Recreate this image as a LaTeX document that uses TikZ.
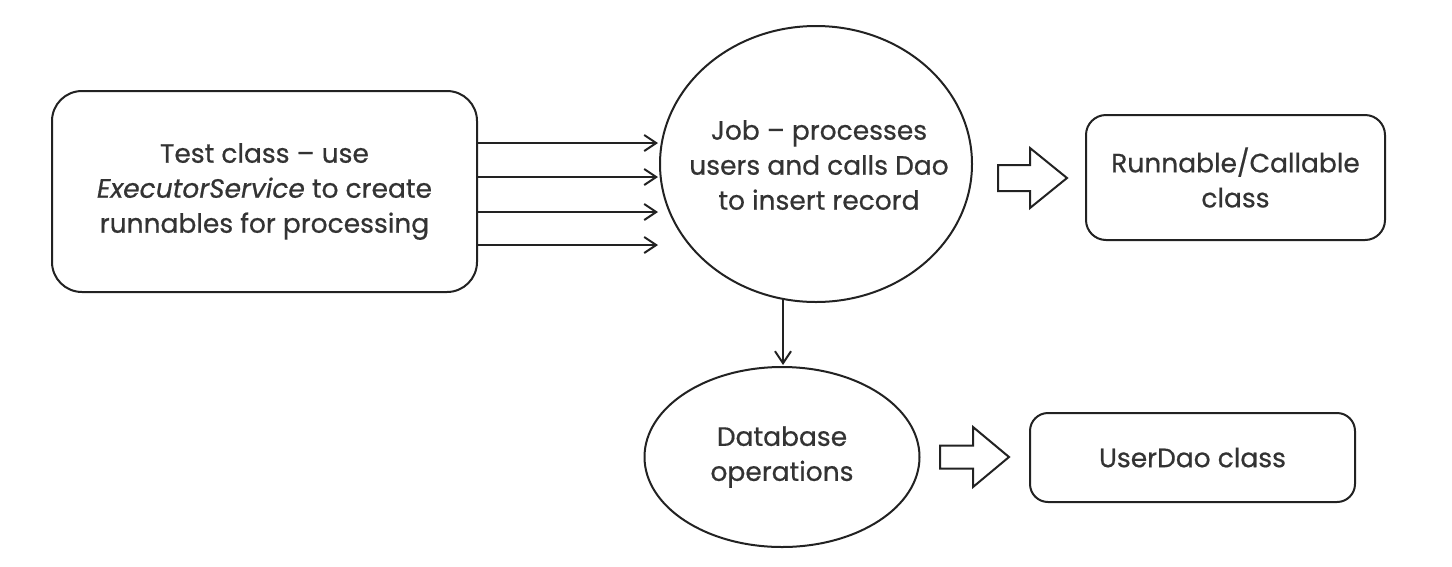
\documentclass[tikz,border=0pt]{standalone}
\usepackage{fontspec}
\setmainfont{Poppins}[FakeBold=0.6]
\usetikzlibrary{shapes.geometric,arrows.meta}
\definecolor{ink}{HTML}{222222}
\definecolor{txt}{HTML}{333333}
\tikzset{
  every node/.style={inner sep=0pt, outer sep=0pt},
  label text/.style={text=txt, align=center, font=\fontsize{26.5}{35}\selectfont},
  rbox/.style={draw=ink, line width=2pt, fill=white, label text},
  ell/.style={ellipse, draw=ink, line width=2pt},
  flow/.style={draw=ink, line width=2pt, -{Straight Barb[length=12pt, width=16pt, line width=2pt]}},
  blockarrow/.style={draw=ink, line width=2pt, line join=miter, fill=white},
}
\begin{document}
\begin{tikzpicture}[x=1pt, y=-1pt]
\useasboundingbox (0,0) rectangle (1452,566);
\fill[white] (0,0) rectangle (1452,566);

% left box
\node[rbox, rounded corners=30pt, minimum width=425pt, minimum height=201pt] (test) at (264.5,191.5) {};
\node[label text] (testtxt) at (test) {Test class -- use\\\textit{ExecutorService} to create\\runnables for processing};

% job ellipse
\node[ell, minimum width=312pt, minimum height=276pt] (job) at (816,164) {};
\node[label text] (jobtxt) at (819,165) {Job -- processes\\users and calls Dao\\to insert record};

% runnable box
\node[rbox, rounded corners=20pt, minimum width=299pt, minimum height=125pt] (run) at (1235.5,177.5) {};
\node[label text] (runtxt) at (run) {Runnable/Callable\\class};

% database ellipse
\node[ell, minimum width=275pt, minimum height=180pt] (db) at (782,457) {};
\node[label text] (dbtxt) at (db) {Database\\operations};

% userdao box
\node[rbox, rounded corners=18pt, minimum width=325pt, minimum height=89pt] (dao) at (1192.5,457.5) {};
\node[label text] (daotxt) at (dao) {UserDao class};

% four arrows
\coordinate (e1) at (658,143);
\coordinate (e2) at (658,177);
\coordinate (e3) at (658,212);
\coordinate (e4) at (658,245);
\foreach \i in {1,2,3,4} {
  \draw[flow] (test.east |- e\i) -- (e\i);
}

% down arrow
\coordinate (dtop) at (783,299);
\coordinate (dbot) at (783,365);
\draw[flow] (dtop) -- (dbot);

% block arrows
\coordinate (b1) at (998,178);
\draw[blockarrow] (b1) ++(0,-13) -- ++(32,0) -- ++(0,-17) -- ++(37,30) -- ++(-37,30) -- ++(0,-17) -- ++(-32,0) -- cycle;
\coordinate (b2) at (940,457);
\draw[blockarrow] (b2) ++(0,-11.5) -- ++(33,0) -- ++(0,-18.5) -- ++(36,30) -- ++(-36,30) -- ++(0,-18.5) -- ++(-33,0) -- cycle;
\end{tikzpicture}
\end{document}
